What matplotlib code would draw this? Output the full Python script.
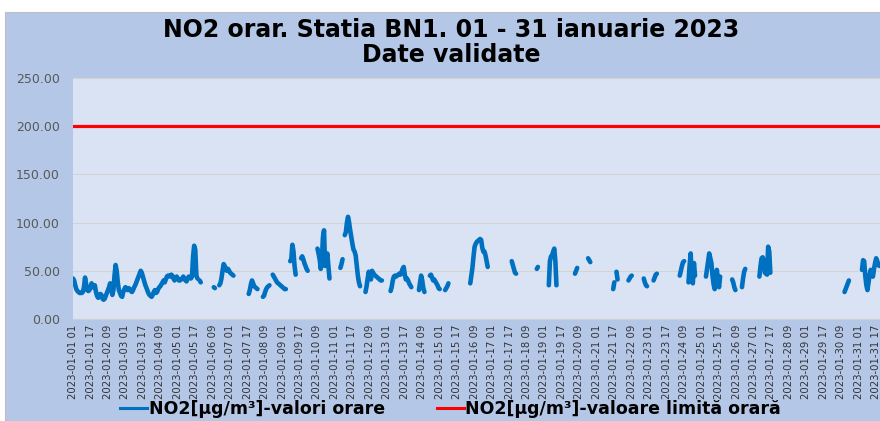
import numpy as np
import pandas as pd
import matplotlib
matplotlib.use("Agg")
import matplotlib.pyplot as plt
from matplotlib.patches import Rectangle
from matplotlib.lines import Line2D

# ---------------- data ----------------
N_HOURS = 744
start = pd.Timestamp("2023-01-01 01:00")
hour_labels = [(start + pd.Timedelta(hours=i)).strftime("%Y-%m-%d %H") for i in range(N_HOURS)]

# measured hourly NO2 segments: (index of first hour, hourly values); gaps = missing data
seg_starts = [0, 116, 129, 134, 161, 174, 183, 199, 209, 224, 245, 249, 268, 291, 317,
              327, 341, 364, 402, 425, 436, 460, 472, 495, 498, 509, 523, 532, 556, 564,
              580, 604, 613, 629, 707, 723]
seg_values = [
    [42, 40, 35, 31, 29, 28, 27, 27, 27, 28,
     33, 43, 36, 30, 29, 30, 33, 37, 33, 33,
     35, 28, 24, 22, 23, 26, 25, 21, 20, 21,
     24, 27, 30, 33, 37, 32, 25, 30, 45, 56,
     50, 38, 30, 27, 24, 23, 28, 31, 33, 32,
     30, 32, 31, 29, 28, 30, 33, 35, 38, 41,
     44, 47, 50, 48, 44, 40, 36, 33, 30, 27,
     25, 24, 23, 25, 28, 30, 27, 28, 31, 33,
     34, 36, 38, 40, 38, 41, 44, 45, 45, 44,
     46, 45, 42, 40, 43, 44, 42, 40, 40, 41,
     42, 44, 42, 40, 39, 42, 44, 43, 42, 44,
     65, 76, 72, 45, 42],
    [40, 38],
    [33, 32],
    [35, 37, 42, 50, 57, 55, 52, 50, 52, 50, 48, 47, 46, 45],
    [26, 30, 36, 40, 37, 34, 33, 32, 31],
    [23, 24, 28, 31, 33, 34, 35],
    [46, 44, 42, 40, 38, 37, 36, 35, 34, 33, 32, 31, 31],
    [60, 62, 77, 70, 55, 46],
    [63, 65, 62, 58, 55, 52, 50],
    [73, 68, 62, 52, 60, 85, 92, 55, 62, 68, 55, 42],
    [53, 57, 62],
    [87, 90, 100, 106, 100, 92, 85, 78, 72, 70, 66, 55, 45, 38, 34],
    [28, 34, 42, 49, 45, 41, 50, 48, 46, 45, 44, 43, 42, 41, 40, 40],
    [29, 33, 40, 44, 45, 44, 45, 46, 47, 46, 48, 52, 54, 46, 41, 42, 40, 37, 35, 33],
    [30, 38, 45, 40, 32, 28],
    [45, 46, 43, 40, 41, 39, 37, 35, 32, 31],
    [30, 32, 34, 37],
    [37, 45, 53, 65, 75, 78, 80, 81, 82, 83, 82, 74, 70, 70, 66, 60, 54],
    [60, 56, 52, 48, 47],
    [52, 54],
    [35, 60, 65, 66, 70, 73, 60, 35],
    [47, 50, 53],
    [63, 61, 59],
    [31, 38],
    [49, 41],
    [40, 42, 44, 45],
    [42, 38, 35, 34],
    [40, 43, 46, 47],
    [45, 50, 55, 59, 60],
    [38, 55, 68, 40, 37, 58, 45],
    [44, 52, 60, 68, 63, 58, 45, 36, 31, 40, 51, 40, 33, 44],
    [41, 38, 33, 30],
    [33, 42, 49, 52],
    [44, 55, 63, 64, 60, 48, 47, 46, 75, 70, 48],
    [28, 31, 34, 37, 40],
    [51, 61, 60, 45, 35, 30, 38, 46, 51, 47, 44, 52, 58, 63, 60, 56, 55],
]
limit_value = 200.0

no2 = np.full(N_HOURS, np.nan)
for s, vals in zip(seg_starts, seg_values):
    no2[s:s + len(vals)] = vals
limit = np.full(N_HOURS, limit_value)
x = np.arange(N_HOURS)

y_ticks = [0, 50, 100, 150, 200, 250]
tick_step = 16

# ---------------- figure ----------------
W, H = 880, 421
fig = plt.figure(figsize=(W / 100, H / 100), dpi=100, facecolor="white")
fig.patches.append(Rectangle((5 / W, 0), 1 - 5 / W, 1 - 12 / H, transform=fig.transFigure,
                             facecolor="#B4C7E7", edgecolor="#BFBFBF", lw=0.8, zorder=-10))

ax = fig.add_axes([72.5 / W, 102 / H, 1 - 72.5 / W, 241 / H])
ax.set_zorder(2)
ax.set_facecolor("#DAE3F3")
for sp in ["top", "right", "left"]:
    ax.spines[sp].set_visible(False)
ax.spines["bottom"].set_color("#D0D0D0")

ax.plot(x, no2, color="#0070C0", lw=3.3, solid_capstyle="round", solid_joinstyle="round", zorder=3)
ax.plot(x, limit, color="#FF0000", lw=2.3, zorder=2)

ax.set_xlim(-0.5, 739.5)
ax.set_ylim(0, 250)
ax.set_yticks(y_ticks)
ax.set_yticklabels([f"{v:.2f}" for v in y_ticks], fontsize=9, color="#595959")
ax.yaxis.grid(True, color="#D3D3D3", lw=0.8)
ax.set_axisbelow(True)
tick_pos = list(range(0, N_HOURS, tick_step))
ax.set_xticks(tick_pos)
ax.set_xticklabels([hour_labels[i] for i in tick_pos], rotation=90, fontsize=7.3, color="#333333")
ax.tick_params(axis="x", length=0, pad=4)
ax.tick_params(axis="y", length=0, pad=9)

fig.text(451 / W, 1 - 30 / H, "NO2 orar. Statia BN1. 01 - 31 ianuarie 2023", ha="center", va="center",
         fontsize=17, fontweight="bold", color="black")
fig.text(451 / W, 1 - 55 / H, "Date validate", ha="center", va="center",
         fontsize=17, fontweight="bold", color="black")

handles = [Line2D([], [], color="#0070C0", lw=2.2), Line2D([], [], color="#FF0000", lw=2.2)]
labels = ["NO2[µg/m³]-valori orare", "NO2[µg/m³]-valoare limită orară"]
fig.legend(handles, labels, loc="center", bbox_to_anchor=(450.5 / W, 1 - 409 / H), ncol=2,
           frameon=False, handlelength=1.55, handletextpad=0.1, columnspacing=3.0,
           prop={"size": 12.5, "weight": "bold"})

fig.savefig("out.png", dpi=100, facecolor="white")
